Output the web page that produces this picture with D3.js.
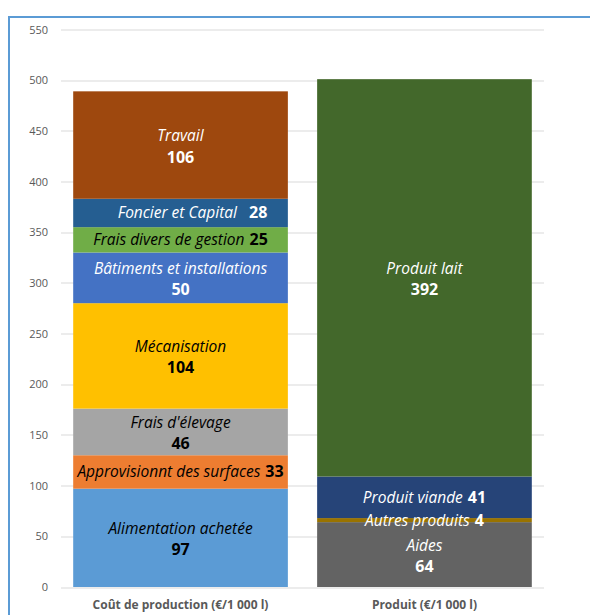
<!DOCTYPE html>
<html>
<head>
<meta charset="utf-8">
<script src="https://cdn.jsdelivr.net/npm/d3@7"></script>
<style>
  body { margin: 0; background: #fff; }
  svg { display: block; font-family: "Open Sans", sans-serif; }
</style>
</head>
<body>
<div id="graph"></div>
<script>
// categories (x axis)
var bars = ["Coût de production (€/1 000 l)", "Produit (€/1 000 l)"];

// left bar segments, bottom to top
var costNames = ["Alimentation achetée", "Approvisionnt des surfaces", "Frais d'élevage", "Mécanisation",
  "Bâtiments et installations", "Frais divers de gestion", "Foncier et Capital", "Travail"];
var costValues = [97, 33, 46, 104, 50, 25, 28, 106];

// right bar segments, bottom to top
var prodNames = ["Aides", "Autres produits", "Produit viande", "Produit lait"];
var prodValues = [64, 4, 41, 392];

var yTicks = [0, 50, 100, 150, 200, 250, 300, 350, 400, 450, 500, 550];

// styling per segment (kept apart from the data)
var costColors = ["#5B9BD5", "#ED7D31", "#A5A5A5", "#FFC000", "#4472C4", "#70AD47", "#255E91", "#9E480E"];
var costText = ["#000", "#000", "#000", "#000", "#fff", "#000", "#fff", "#fff"];
var costOneLine = [false, true, false, false, false, true, true, false];
var costShift = [0, 0, 0, 0, 0, 0, 12, 0]; // Foncier label sits right of centre
var prodColors = ["#636363", "#997300", "#264478", "#43682B"];
var prodText = ["#fff", "#fff", "#fff", "#fff"];
var prodOneLine = [false, true, true, false];
var prodShift = [0, 0, 0, 0];

var frameWidth = 590,
  frameHeight = 615;
var margin = { top: 29.5, right: 46, bottom: 28, left: 61 },
  width = frameWidth - margin.left - margin.right,
  height = frameHeight - margin.top - margin.bottom;

var svg = d3
  .select("#graph")
  .append("svg")
  .attr("width", frameWidth)
  .attr("height", frameHeight);

// chart frame border
svg
  .append("rect")
  .attr("x", 9)
  .attr("y", 17)
  .attr("width", 700)
  .attr("height", 700)
  .attr("fill", "none")
  .attr("stroke", "#5B9BD5")
  .attr("stroke-width", 2);

var g = svg
  .append("g")
  .attr("transform", "translate(" + margin.left + "," + margin.top + ")");

var xScale = d3.scaleBand().domain(bars).range([0, width]).paddingInner(0.12).paddingOuter(0.05);
var yScale = d3.scaleLinear().domain([0, 550]).range([height, 0]);

// gridlines
g.append("g")
  .selectAll("line")
  .data(yTicks)
  .enter()
  .append("line")
  .attr("x1", 0)
  .attr("x2", width)
  .attr("y1", function (d) { return Math.round(yScale(d)) + 0.5; })
  .attr("y2", function (d) { return Math.round(yScale(d)) + 0.5; })
  .attr("stroke", "#D9D9D9")
  .attr("stroke-width", 1);

// y axis labels
var yAxis = g
  .append("g")
  .attr("transform", "translate(-13,0)")
  .call(d3.axisLeft(yScale).tickValues(yTicks).tickSize(0).tickPadding(0));
yAxis.select(".domain").remove();
yAxis
  .selectAll("text")
  .attr("fill", "#595959")
  .style("font-size", "11px")
  .style("font-family", "'Open Sans', sans-serif");

// x axis labels
var xAxis = g
  .append("g")
  .attr("transform", "translate(0," + height + ")")
  .call(d3.axisBottom(xScale).tickSize(0).tickPadding(13));
xAxis.select(".domain").remove();
xAxis
  .selectAll("text")
  .attr("fill", "#595959")
  .style("font-size", "12px")
  .style("font-weight", "bold")
  .style("font-family", "'Open Sans', sans-serif");

function stack(names, values, colors, textColors, oneLine, shift) {
  var acc = 0;
  return names.map(function (n, i) {
    var s = { name: n, value: values[i], y0: acc, y1: acc + values[i],
      color: colors[i], text: textColors[i], oneLine: oneLine[i], shift: shift[i] };
    acc += values[i];
    return s;
  });
}

var series = [
  { bar: bars[0], segs: stack(costNames, costValues, costColors, costText, costOneLine, costShift) },
  { bar: bars[1], segs: stack(prodNames, prodValues, prodColors, prodText, prodOneLine, prodShift) }
];

series.forEach(function (s) {
  var bg = g.append("g").attr("class", "bar");
  var x0 = xScale(s.bar),
    cx = x0 + xScale.bandwidth() / 2;

  bg.selectAll("rect")
    .data(s.segs)
    .enter()
    .append("rect")
    .attr("x", x0)
    .attr("width", xScale.bandwidth())
    .attr("y", function (d) { return yScale(d.y1); })
    .attr("height", function (d) { return yScale(d.y0) - yScale(d.y1); })
    .attr("fill", function (d) { return d.color; });

  var labels = bg
    .selectAll(".lbl")
    .data(s.segs)
    .enter()
    .append("text")
    .attr("class", "lbl")
    .attr("x", function (d) { return cx + d.shift; })
    .attr("text-anchor", "middle")
    .style("font-size", "15.5px")
    .attr("fill", function (d) { return d.text; });

  labels.each(function (d) {
    var t = d3.select(this);
    var cy = yScale((d.y0 + d.y1) / 2);
    if (d.oneLine) {
      t.attr("y", cy + 5.5);
      t.append("tspan").style("font-style", "italic").text(d.name);
      t.append("tspan")
        .attr("dx", d.shift ? 12 : 5)
        .style("font-weight", "bold")
        .style("font-size", "16px")
        .text(d.value);
    } else {
      t.append("tspan")
        .attr("x", cx)
        .attr("y", cy - 4)
        .style("font-style", "italic")
        .text(d.name);
      t.append("tspan")
        .attr("x", cx)
        .attr("y", cy + 17.5)
        .style("font-weight", "bold")
        .style("font-size", "16px")
        .text(d.value);
    }
  });
});
</script>
</body>
</html>
